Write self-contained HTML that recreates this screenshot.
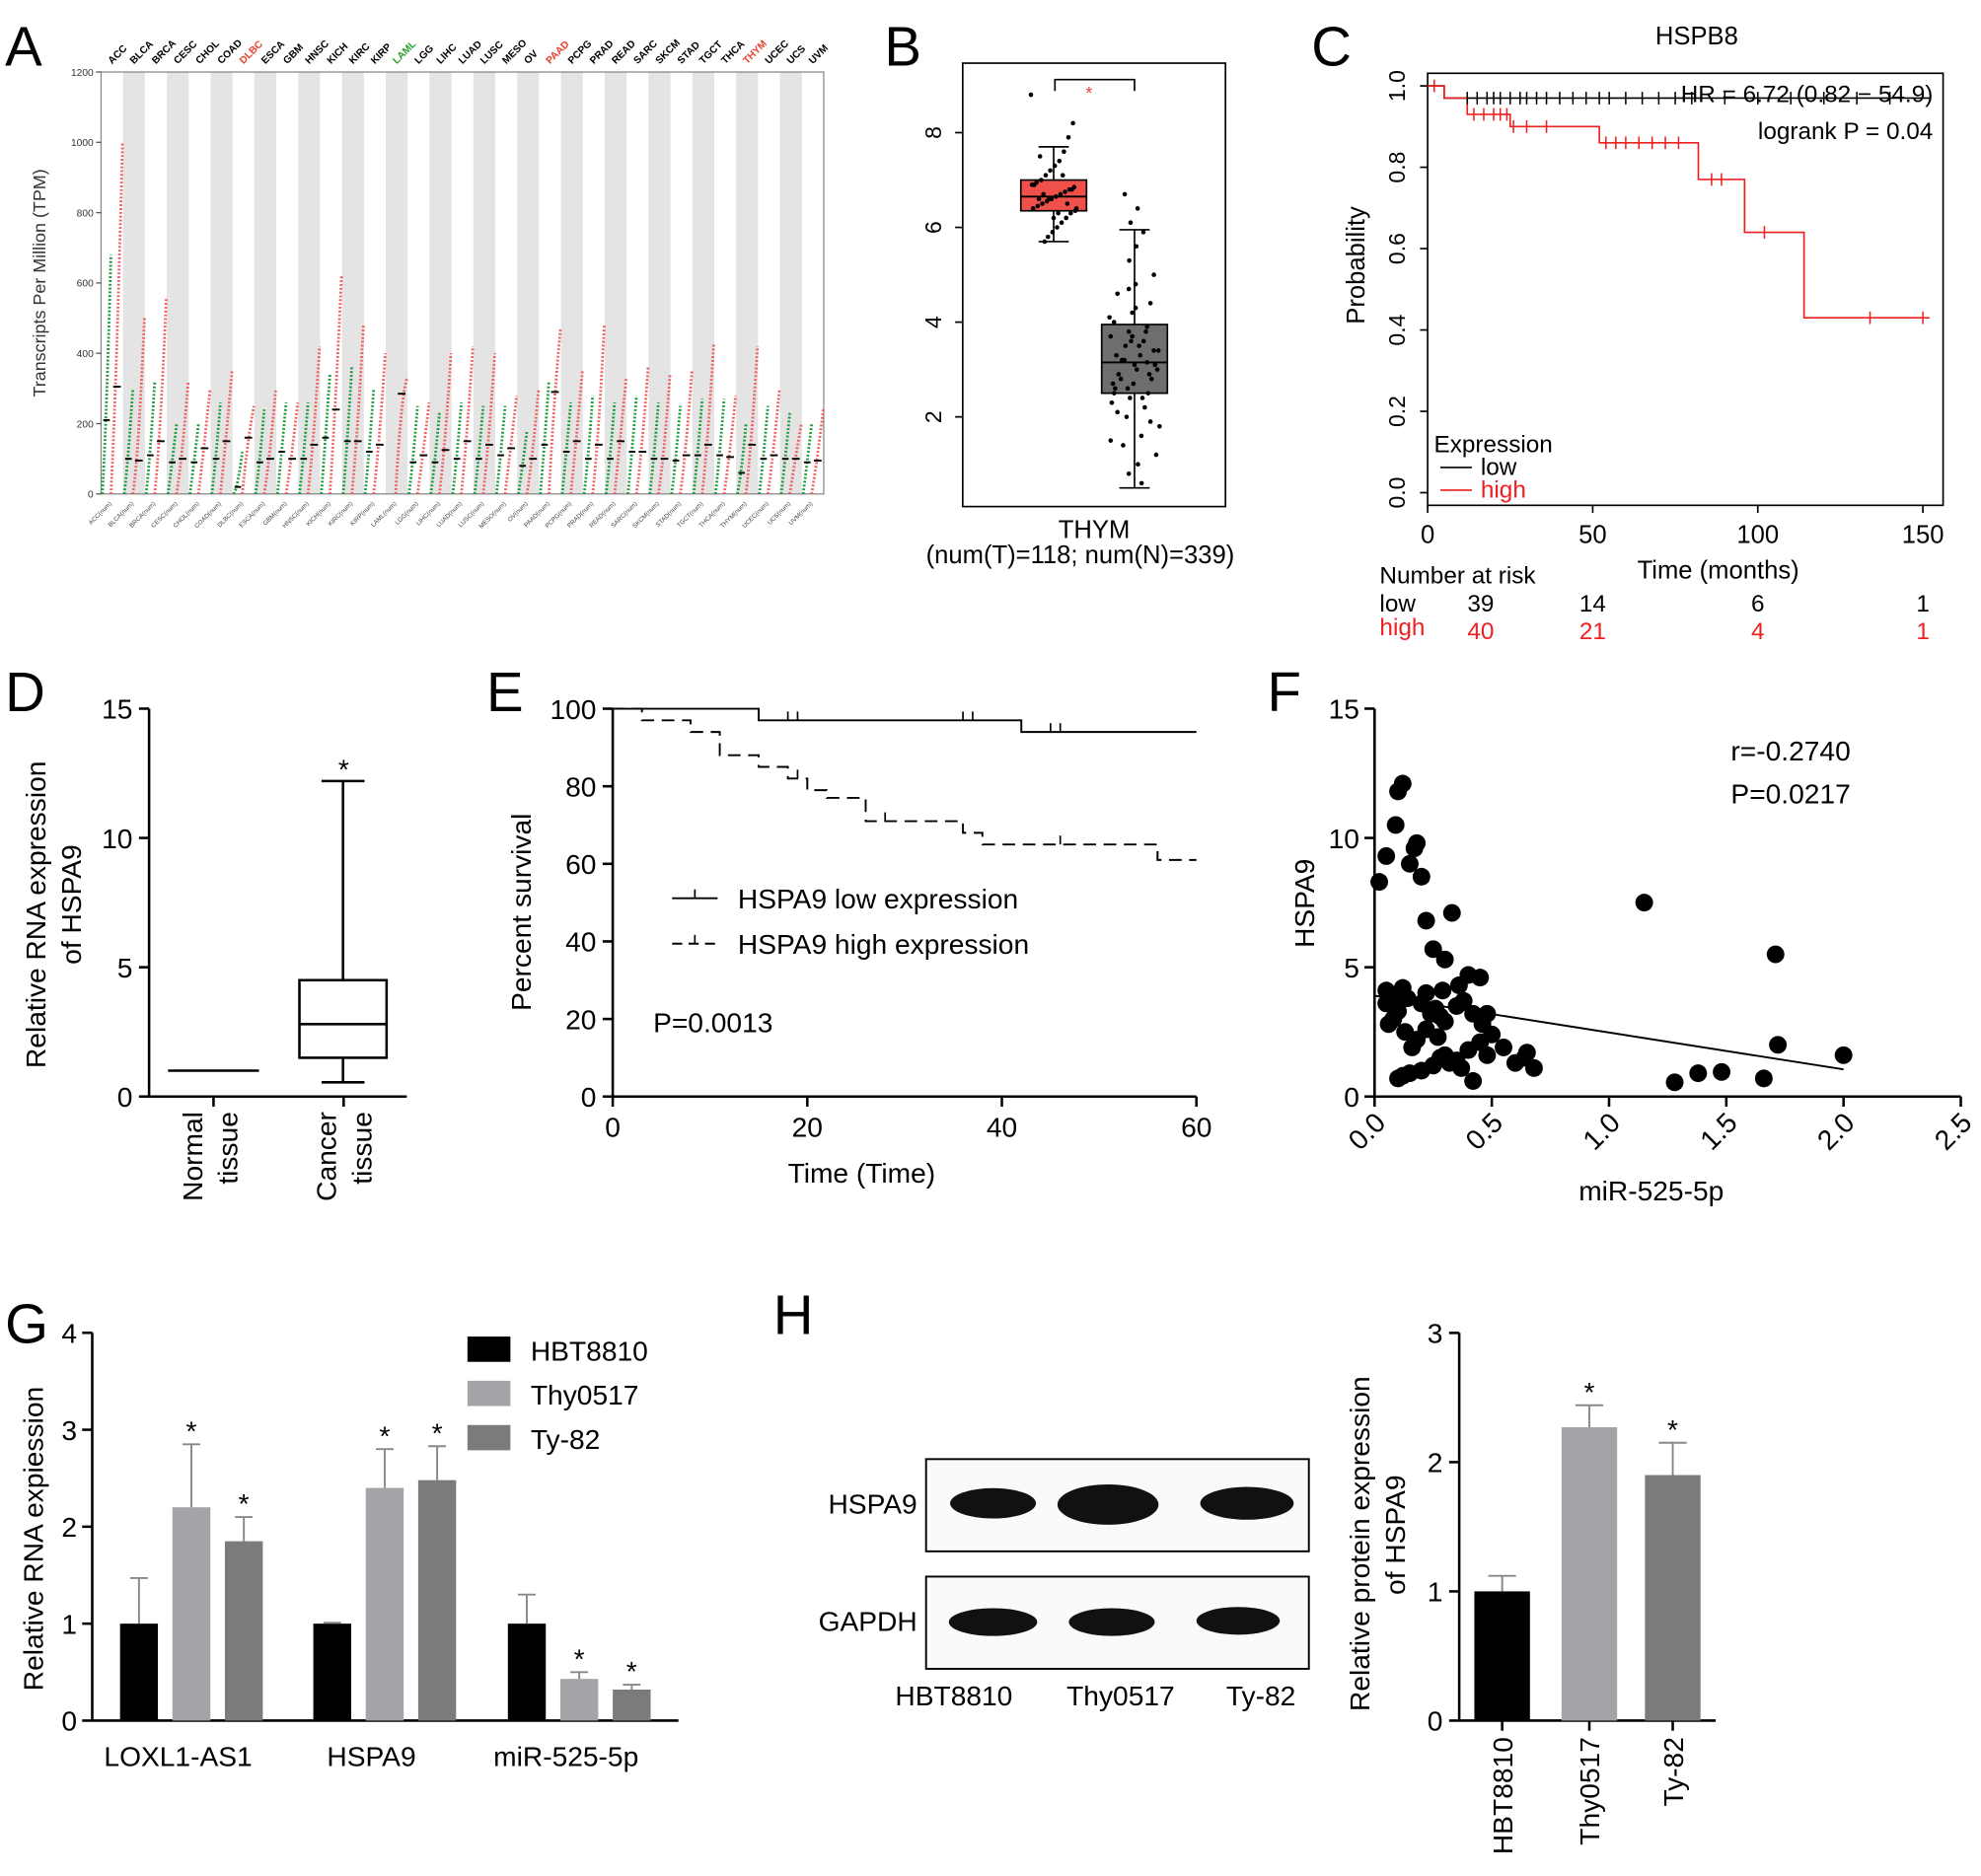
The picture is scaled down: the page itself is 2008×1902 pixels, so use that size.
<!DOCTYPE html>
<html><head><meta charset="utf-8"><style>
html,body{margin:0;padding:0;background:#fff;}
svg{display:block;font-family:"Liberation Sans",Arial,sans-serif;}
</style></head><body>
<svg id="fig" width="2008" height="1902" viewBox="0 0 1568 1485" preserveAspectRatio="none" xmlns="http://www.w3.org/2000/svg">
<rect x="0" y="0" width="1568" height="1485" fill="#fff"/>
<g font-size="44" fill="#000">
<text x="4" y="52">A</text><text x="700" y="52">B</text><text x="1038" y="52">C</text>
<text x="4" y="563">D</text><text x="385" y="563">E</text><text x="1003" y="563">F</text>
<text x="4" y="1063">G</text><text x="612" y="1056">H</text>
</g>
</svg>
<script>
// ---------- DATA ----------
const aCats=["ACC","BLCA","BRCA","CESC","CHOL","COAD","DLBC","ESCA","GBM","HNSC","KICH","KIRC","KIRP","LAML","LGG","LIHC","LUAD","LUSC","MESO","OV","PAAD","PCPG","PRAD","READ","SARC","SKCM","STAD","TGCT","THCA","THYM","UCEC","UCS","UVM"];
const aTumorMed=[305,95,150,100,130,150,160,100,100,140,240,150,140,285,110,125,150,140,130,100,290,150,140,150,120,100,110,140,105,140,110,100,95];
const aTumorMax=[1000,500,560,320,300,350,250,300,260,420,620,480,400,330,260,400,420,400,280,300,470,350,480,330,360,340,350,430,280,420,300,200,240];
const aNormalMed=[210,100,110,90,90,100,20,90,120,100,160,150,120,0,90,90,100,100,110,80,140,120,100,100,120,100,95,110,110,60,100,100,90];
const aNormalMax=[680,300,320,200,200,260,120,240,260,260,340,360,300,0,250,230,260,250,250,180,320,260,280,260,280,260,250,270,270,200,250,230,200];
const aColor={"DLBC":"#e8412c","LAML":"#2aa02a","PAAD":"#e8412c","THYM":"#e8412c"};
const bTumorStats=[5.7,6.35,6.65,7.0,7.7];
const bNormalStats=[0.5,2.5,3.15,3.95,5.95];
const bTumorDots=[8.8,8.2,7.9,7.6,7.4,7.3,7.2,7.1,7.0,6.95,6.9,6.85,6.8,6.75,6.7,6.65,6.6,6.55,6.5,6.45,6.4,6.35,6.3,6.2,6.1,6.0,5.9,5.8,6.7,6.6,6.9,6.4,6.8,6.5,7.1,6.3,6.2,6.6,5.7,7.5];
const bNormalDots=[6.7,6.4,6.1,5.9,5.6,5.3,5.0,4.8,4.6,4.4,4.2,4.0,3.9,3.8,3.7,3.6,3.5,3.4,3.3,3.2,3.1,3.0,2.9,2.8,2.7,2.6,2.5,2.4,2.3,2.2,2.0,1.8,1.6,1.4,1.2,1.0,0.8,0.6,3.1,3.3,2.9,3.6,2.7,3.8,2.6,4.1,2.4,3.2,3.0,3.5,2.8,3.4,4.3,2.1,1.9,3.7,2.5,3.15,4.7,1.5];
const cLowT=[0,5,152];const cLowS=[1.0,0.97,0.97];
const cHighT=[0,5,12,25,52,82,96,114,152];const cHighS=[1.0,0.97,0.93,0.90,0.86,0.77,0.64,0.43,0.43];
const cLowCens=[12,15,18,20,22,25,28,30,33,36,40,44,48,52,55,60,65,70,75,80,90,100,110,120,130,140];
const cHighCens=[2,14,17,20,22,24,26,30,36,54,57,60,64,68,72,76,86,89,102,134,150];
const dNormal=[1,1,1,1,1];
const dCancer=[0.55,1.5,2.8,4.5,12.2];
const eLowT=[0,15,42,60];const eLowS=[100,97,94,94];
const eHighT=[0,3,8,11,15,18,20,22,26,36,38,56,60];const eHighS=[100,97,94,88,85,82,79,77,71,68,65,61,61];
const eLowCens=[18,19,36,37,45,46];const eHighCens=[19,28,46,56];
const fX=[0.02,0.05,0.1,0.12,0.09,0.18,0.2,0.22,0.15,0.17,0.25,0.3,0.33,0.36,0.4,0.45,0.48,0.05,0.08,0.12,0.14,0.2,0.22,0.26,0.28,0.3,0.35,0.38,0.42,0.46,0.5,0.55,0.6,0.65,0.68,0.1,0.15,0.2,0.25,0.3,0.35,0.4,0.45,0.13,0.08,0.06,0.1,0.18,0.22,0.28,0.32,0.37,0.42,0.48,0.12,0.16,0.24,0.29,1.15,1.28,1.38,1.48,1.66,1.71,1.72,2.0,0.64,0.05,0.27];
const fY=[8.3,9.3,11.8,12.1,10.5,9.8,8.5,6.8,9.0,9.6,5.7,5.3,7.1,4.3,4.7,4.6,3.2,4.1,3.9,4.2,3.8,3.6,4.0,3.4,3.1,2.9,3.5,3.7,3.2,2.8,2.4,1.9,1.3,1.7,1.1,0.7,0.9,1.0,1.2,1.6,1.4,1.8,2.1,2.5,3.0,2.8,3.3,2.2,2.6,1.5,1.3,1.1,0.6,1.6,0.8,1.9,3.2,4.1,7.5,0.55,0.9,0.95,0.7,5.5,2.0,1.6,1.5,3.6,2.3];
const fLine=[[0,3.9],[2.0,1.05]];
const gGroups=["LOXL1-AS1","HSPA9","miR-525-5p"];
const gSeries=["HBT8810","Thy0517","Ty-82"];
const gVals=[[1.0,2.2,1.85],[1.0,2.4,2.48],[1.0,0.43,0.32]];
const gErr=[[0.47,0.65,0.25],[0.01,0.4,0.35],[0.3,0.07,0.05]];
const gStar=[[false,true,true],[false,true,true],[false,true,true]];
const hCats=["HBT8810","Thy0517","Ty-82"];
const hVals=[1.0,2.27,1.9];
const hErr=[0.12,0.17,0.25];
const hStar=[false,true,true];
const gColors=["#000","#a3a3a8","#7b7b7b"];

// ---------- helpers ----------
const NS="http://www.w3.org/2000/svg";
const svg=document.getElementById('fig');
function el(tag,attrs,parent,txt){const e=document.createElementNS(NS,tag);for(const k in attrs)e.setAttribute(k,attrs[k]);if(txt!==undefined)e.textContent=txt;(parent||svg).appendChild(e);return e;}
function grp(name){const g=el('g',{});return g;}
function lin(x1,y1,x2,y2,p,sw,col,dash){const a={x1,y1,x2,y2,stroke:col||'#000','stroke-width':sw||1.5};if(dash)a['stroke-dasharray']=dash;return el('line',a,p);}
function txt(x,y,s,p,size,anchor,extra){const a={x,y,'font-size':size||22,'text-anchor':anchor||'start'};Object.assign(a,extra||{});return el('text',a,p,s);}
function step(ts,ss,X,Y){let d='M'+X(ts[0])+','+Y(ss[0]);for(let i=1;i<ts.length;i++){d+=' H'+X(ts[i])+' V'+Y(ss[i]);}return d;}
function stepAt(ts,ss,t){let v=ss[0];for(let i=0;i<ts.length;i++){if(ts[i]<=t)v=ss[i];}return v;}

// ---------- Panel A ----------
(function(){
const g=grp('panel-a-expression-chart');
const x0=80,x1=652,y0=57,y1=391;
const Y=v=>y1-v/1200*(y1-y0);
const w=(x1-x0)/aCats.length;
aCats.forEach((c,i)=>{if(i%2==1){const r=el('rect',{x:x0+i*w,y:y0,width:w,height:y1-y0,fill:'#e4e4e4'},g);}});
el('rect',{x:x0,y:y0,width:x1-x0,height:y1-y0,fill:'none',stroke:'#888','stroke-width':1},g);
[0,200,400,600,800,1000,1200].forEach(v=>{lin(x0-4,Y(v),x0,Y(v),g,1,'#555');txt(x0-6,Y(v)+3,String(v),g,8,'end',{fill:'#333'});});
const yl=txt(36,224,'Transcripts Per Million (TPM)',g,14,'middle',{transform:'rotate(-90 36 224)',fill:'#333'});

aCats.forEach((c,i)=>{
 const cx=x0+i*w;
 if(aNormalMax[i]>0){
  const p=el('path',{d:`M${cx+1},${Y(0)} Q${cx+w*0.25},${Y(aNormalMed[i])} ${cx+w*0.45},${Y(aNormalMax[i])}`,fill:'none',stroke:'#1d9a3a','stroke-width':2.2,'stroke-dasharray':'1.5 1.5'},g);
  
  lin(cx+w*0.1,Y(aNormalMed[i]),cx+w*0.4,Y(aNormalMed[i]),g,1.5,'#000');
 }
 const t=el('path',{d:`M${cx+w*0.45},${Y(0)} Q${cx+w*0.7},${Y(aTumorMed[i])} ${cx+w*0.98},${Y(aTumorMax[i])}`,fill:'none',stroke:'#f06060','stroke-width':2.2,'stroke-dasharray':'1.5 1.5'},g);
 
 lin(cx+w*0.55,Y(aTumorMed[i]),cx+w*0.9,Y(aTumorMed[i]),g,1.5,'#000');
 const lab=txt(cx+w*0.5,y0-6,c,g,8,'start',{transform:`rotate(-45 ${cx+w*0.5} ${y0-6})`,fill:aColor[c]||'#000','font-weight':'bold'});
 
 txt(cx+w*0.5,y1+8,c+'(num)',g,5,'end',{transform:`rotate(-45 ${cx+w*0.5} ${y1+8})`,fill:'#444'});
});
})();

// ---------- Panel B ----------
(function(){
const g=grp('panel-b-boxplot');
const Y=v=>405-v*37.5;
el('rect',{x:762,y:50,width:208,height:351,fill:'none',stroke:'#000','stroke-width':1.3},g);
[2,4,6,8].forEach(v=>{lin(756,Y(v),762,Y(v),g,1.3);txt(745,Y(v),String(v),g,18,'middle',{transform:`rotate(-90 745 ${Y(v)})`});});
function box(s,xa,xb,fill,name){
 const xm=(xa+xb)/2;
 const bg=grp(name);
 lin(xm,Y(s[0]),xm,Y(s[1]),bg,1.3);lin(xm,Y(s[3]),xm,Y(s[4]),bg,1.3);
 lin(xm-12,Y(s[0]),xm+12,Y(s[0]),bg,1.3);lin(xm-12,Y(s[4]),xm+12,Y(s[4]),bg,1.3);
 el('rect',{x:xa,y:Y(s[3]),width:xb-xa,height:Y(s[1])-Y(s[3]),fill:fill,stroke:'#000','stroke-width':1.3},bg);
 lin(xa,Y(s[2]),xb,Y(s[2]),bg,1.5);
 return bg;
}
box(bTumorStats,808,860,'#f0504a','tumor-box');
box(bNormalStats,872,924,'#6e6e6e','normal-box');
const dg=grp('tumor-points');
bTumorDots.forEach((v,i)=>{el('circle',{cx:834+((i*37)%41-20)*0.9,cy:Y(v),r:1.8,fill:'#000'},dg);});
const ng=grp('normal-points');
bNormalDots.forEach((v,i)=>{el('circle',{cx:898+((i*29)%45-22)*(v>5||v<1?0.35:0.9),cy:Y(v),r:1.8,fill:'#000'},ng);});
const br=el('path',{d:'M835,72 V63 H898 V72',fill:'none',stroke:'#000','stroke-width':1.3},g);

txt(862,78,'*',g,14,'middle',{fill:'#e8412c'});
txt(866,426,'THYM',g,20,'middle');
txt(855,446,'(num(T)=118; num(N)=339)',g,20,'middle');
})();

// ---------- Panel C ----------
(function(){
const g=grp('panel-c-km-plot');
const X=t=>1130+t/150*392, Y=s=>390-s*322;
el('rect',{x:1130,y:58,width:408,height:342,fill:'none',stroke:'#000','stroke-width':1.3},g);
txt(1343,35,'HSPB8',g,20,'middle');
[0,0.2,0.4,0.6,0.8,1.0].forEach(v=>{lin(1124,Y(v),1130,Y(v),g,1.3);txt(1112,Y(v),v.toFixed(1),g,18,'middle',{transform:`rotate(-90 1112 ${Y(v)})`});});
[0,50,100,150].forEach(v=>{lin(X(v),400,X(v),406,g,1.3);txt(X(v),430,String(v),g,20,'middle');});
txt(1080,210,'Probability',g,20,'middle',{transform:'rotate(-90 1080 210)'});
txt(1360,458,'Time (months)',g,20,'middle');
const lo=el('path',{d:step(cLowT,cLowS,X,Y),fill:'none',stroke:'#000','stroke-width':1.3},g);

const hi=el('path',{d:step(cHighT,cHighS,X,Y),fill:'none',stroke:'#f02020','stroke-width':1.3},g);

cLowCens.forEach(t=>{const y=Y(stepAt(cLowT,cLowS,t));lin(X(t),y-5,X(t),y+5,g,1.2);});
cHighCens.forEach(t=>{const y=Y(stepAt(cHighT,cHighS,t));lin(X(t),y-5,X(t),y+5,g,1.2,'#f02020');});
txt(1530,81,'HR = 6.72 (0.82 − 54.9)',g,19,'end');
txt(1530,110,'logrank P = 0.04',g,19,'end');
txt(1135,358,'Expression',g,19);
lin(1140,370,1165,370,g,1.3);txt(1172,376,'low',g,19);
lin(1140,388,1165,388,g,1.3,'#f02020');txt(1172,394,'high',g,19,'start',{fill:'#f02020'});
txt(1092,462,'Number at risk',g,19);
txt(1092,484,'low',g,19);txt(1092,503,'high',g,19,'start',{fill:'#f02020'});
[['39','14','6','1'],['40','21','4','1']].forEach((r,ri)=>r.forEach((v,i)=>txt(X(i*50)+(i==0?42:0),484+ri*19+(ri?3:0),v,g,19,'middle',{fill:ri?'#f02020':'#000'})));
})();

// ---------- Panel D ----------
(function(){
const g=grp('panel-d-boxplot');
const Y=v=>868-v*20.47;
lin(118,561,118,868,g,2);lin(118,868,322,868,g,2);
[0,5,10,15].forEach(v=>{lin(110,Y(v),118,Y(v),g,2);txt(105,Y(v)+8,String(v),g,22,'end');});
txt(36,724,'Relative RNA expression',g,22,'middle',{transform:'rotate(-90 36 724)'});
txt(64,716,'of HSPA9',g,22,'middle',{transform:'rotate(-90 64 716)'});
const n=grp('normal-box');lin(133,Y(dNormal[2]),205,Y(dNormal[2]),n,2);
const c=grp('cancer-box');const s=dCancer,xa=237,xb=306,xm=271.5;
lin(xm,Y(s[0]),xm,Y(s[1]),c,2);lin(xm,Y(s[3]),xm,Y(s[4]),c,2);
lin(xm-17,Y(s[0]),xm+17,Y(s[0]),c,2);lin(xm-17,Y(s[4]),xm+17,Y(s[4]),c,2);
el('rect',{x:xa,y:Y(s[3]),width:xb-xa,height:Y(s[1])-Y(s[3]),fill:'none',stroke:'#000','stroke-width':2},c);
lin(xa,Y(s[2]),xb,Y(s[2]),c,2);
txt(272,Y(s[4])-2,'*',g,22,'middle');
[[160,'Normal'],[188,'tissue'],[266,'Cancer'],[294,'tissue']].forEach(([x,s])=>txt(x,880,s,g,22,'end',{transform:`rotate(-90 ${x} 880)`}));
lin(169,868,169,876,g,2);lin(272,868,272,876,g,2);
})();

// ---------- Panel E ----------
(function(){
const g=grp('panel-e-survival');
const X=t=>485+t/60*462, Y=s=>868-s*3.07;
lin(485,561,485,868,g,2);lin(485,868,947,868,g,2);
[0,20,40,60,80,100].forEach(v=>{lin(477,Y(v),485,Y(v),g,2);txt(472,Y(v)+8,String(v),g,22,'end');});
[0,20,40,60].forEach(v=>{lin(X(v),868,X(v),876,g,2);txt(X(v),900,String(v),g,22,'middle');});
txt(420,722,'Percent survival',g,22,'middle',{transform:'rotate(-90 420 722)'});
txt(682,936,'Time (Time)',g,22,'middle');
const lo=el('path',{d:step(eLowT,eLowS,X,Y),fill:'none',stroke:'#000','stroke-width':1.5},g);

const hi=el('path',{d:step(eHighT,eHighS,X,Y),fill:'none',stroke:'#000','stroke-width':1.5,'stroke-dasharray':'10 6'},g);

eLowCens.forEach(t=>{const y=Y(stepAt(eLowT,eLowS,t));lin(X(t),y-7,X(t),y,g,1.3);});
eHighCens.forEach(t=>{const y=Y(stepAt(eHighT,eHighS,t));lin(X(t),y-7,X(t),y,g,1.3);});
lin(532,711,568,711,g,1.5);lin(550,704,550,711,g,1.3);txt(584,719,'HSPA9 low expression',g,22);
lin(532,747,568,747,g,1.5,'#000','8 5');lin(550,740,550,747,g,1.3);txt(584,755,'HSPA9 high expression',g,22);
txt(517,817,'P=0.0013',g,22);
})();

// ---------- Panel F ----------
(function(){
const g=grp('panel-f-scatter');
const X=v=>1088+v/2.5*464, Y=v=>868-v*20.47;
lin(1088,561,1088,868,g,2);lin(1088,868,1552,868,g,2);
[0,5,10,15].forEach(v=>{lin(1080,Y(v),1088,Y(v),g,2);txt(1076,Y(v)+8,String(v),g,22,'end');});
[0,0.5,1.0,1.5,2.0,2.5].forEach(v=>{lin(X(v),868,X(v),876,g,2);txt(X(v)+10,890,v.toFixed(1),g,22,'end',{transform:`rotate(-45 ${X(v)+10} 890)`});});
txt(1040,715,'HSPA9',g,22,'middle',{transform:'rotate(-90 1040 715)'});
txt(1307,950,'miR-525-5p',g,22,'middle');
fX.forEach((x,i)=>{const c=el('circle',{cx:X(x),cy:Y(fY[i]),r:7,fill:'#000'},g);});
const rl=lin(X(fLine[0][0]),Y(fLine[0][1]),X(fLine[1][0]),Y(fLine[1][1]),g,1.5);

txt(1370,602,'r=-0.2740',g,22);txt(1370,636,'P=0.0217',g,22);
})();

// ---------- Panel G ----------
(function(){
const g=grp('panel-g-bar-chart');
const Y=v=>1362-v*76.75;
lin(73,1055,73,1362,g,2);lin(73,1362,537,1362,g,2);
[0,1,2,3,4].forEach(v=>{lin(65,Y(v),73,Y(v),g,2);txt(61,Y(v)+8,String(v),g,22,'end');});
txt(34,1218,'Relative RNA expiession',g,22,'middle',{transform:'rotate(-90 34 1218)'});
const gx=[95,248,402];
gGroups.forEach((gn,gi)=>{
 txt(gx[gi]+46,1398,gn,g,22,'middle');
 gVals[gi].forEach((v,si)=>{
  const x=gx[gi]+si*41.5, w=30;
  const b=el('rect',{x:x,y:Y(v),width:w,height:Y(0)-Y(v),fill:gColors[si]},g);
  
  const e=gErr[gi][si];
  lin(x+w/2,Y(v),x+w/2,Y(v+e),g,1.5,'#888');lin(x+w/2-7,Y(v+e),x+w/2+7,Y(v+e),g,1.5,'#888');
  if(gStar[gi][si])txt(x+w/2,Y(v+e)-3,'*',g,22,'middle');
 });
});
gSeries.forEach((s,i)=>{const r=el('rect',{x:370,y:1058+i*35,width:34,height:20,fill:gColors[i]},g);txt(420,1077+i*35,s,g,22);});
})();

// ---------- Panel H ----------
(function(){
const g=grp('panel-h-western-blot');
el('rect',{x:733,y:1155,width:303,height:73,fill:'#fafafa',stroke:'#000','stroke-width':1.5},g);
el('rect',{x:733,y:1248,width:303,height:73,fill:'#fafafa',stroke:'#000','stroke-width':1.5},g);
txt(726,1198,'HSPA9',g,22,'end');txt(726,1291,'GAPDH',g,22,'end');
[[786,1190,34,12],[877,1191,40,16],[987,1190,37,13]].forEach(([cx,cy,rx,ry])=>el('ellipse',{cx,cy,rx,ry,fill:'#111'},g));
[[786,1284,35,11],[880,1284,34,11],[980,1283,33,11]].forEach(([cx,cy,rx,ry])=>el('ellipse',{cx,cy,rx,ry,fill:'#111'},g));
txt(755,1350,'HBT8810',g,22,'middle');txt(887,1350,'Thy0517',g,22,'middle');txt(998,1350,'Ty-82',g,22,'middle');
const Y=v=>1362-v*102.3;
lin(1155,1055,1155,1362,g,2);lin(1155,1362,1358,1362,g,2);
[0,1,2,3].forEach(v=>{lin(1147,Y(v),1155,Y(v),g,2);txt(1142,Y(v)+8,String(v),g,22,'end');});
txt(1084,1222,'Relative protein expression',g,22,'middle',{transform:'rotate(-90 1084 1222)'});
txt(1112,1215,'of HSPA9',g,22,'middle',{transform:'rotate(-90 1112 1215)'});
const bx=[1167,1236,1302];
hCats.forEach((c,i)=>{
 const x=bx[i],w=44,v=hVals[i],e=hErr[i];
 const b=el('rect',{x:x,y:Y(v),width:w,height:Y(0)-Y(v),fill:gColors[i]},g);
 
 lin(x+w/2,Y(v),x+w/2,Y(v+e),g,1.5,'#888');lin(x+w/2-11,Y(v+e),x+w/2+11,Y(v+e),g,1.5,'#888');
 if(hStar[i])txt(x+w/2,Y(v+e)-3,'*',g,22,'middle');
 lin(x+w/2,1362,x+w/2,1370,g,2);
 txt(x+w/2+8,1375,c,g,22,'end',{transform:`rotate(-90 ${x+w/2+8} 1375)`});
});
})();
</script>
</body></html>
